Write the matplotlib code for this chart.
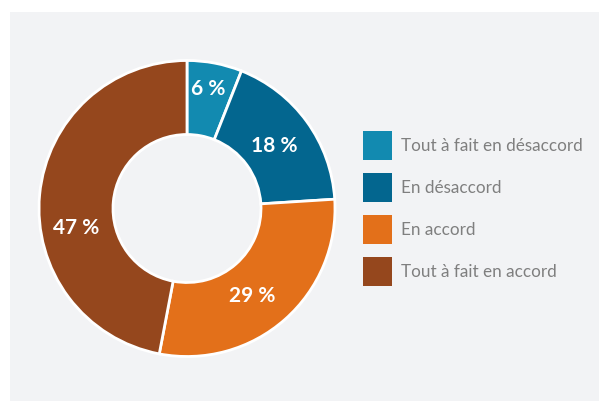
import matplotlib.pyplot as plt
from matplotlib.patches import Rectangle, Patch

categories = ["Tout à fait en désaccord", "En désaccord", "En accord", "Tout à fait en accord"]
values = [6, 18, 29, 47]
colors = ["#128ab0", "#03668f", "#e3701a", "#95471d"]

# where the percentage labels sit (axes data units, donut radius = 1)
label_pos = [(0.14, 0.81), (0.59, 0.42), (0.44, -0.59), (-0.75, -0.13)]

plt.rcParams["font.family"] = ["Lato", "DejaVu Sans"]

W, H = 599, 401
fig = plt.figure(figsize=(W / 100, H / 100), dpi=100)
fig.patch.set_facecolor("white")

# gray panel behind everything
fig.patches.append(
    Rectangle((10 / W, 0), 1 - 10 / W, 1 - 12 / H, transform=fig.transFigure,
              facecolor="#f2f3f5", edgecolor="none", zorder=-1)
)

cx, cy, r = 187, 208.5, 148
ax = fig.add_axes([(cx - r) / W, (H - cy - r) / H, 2 * r / W, 2 * r / H])
ax.set_facecolor("none")

wedges, texts, autotexts = ax.pie(
    values,
    colors=colors,
    startangle=90,
    counterclock=False,
    radius=1,
    autopct=lambda p: f"{p:.0f} %",
    pctdistance=0.75,
    wedgeprops=dict(width=0.5, edgecolor="white", linewidth=2, clip_on=False),
    textprops=dict(color="white", fontsize=15, fontweight="bold"),
)
for t, pos in zip(autotexts, label_pos):
    t.set_position(pos)
ax.set_xlim(-1, 1)
ax.set_ylim(-1, 1)
ax.set_aspect("equal")
ax.axis("off")

fs = 12.3
fpx = fs * 100 / 72  # font size in pixels
handles = [Patch(facecolor=c, edgecolor="none") for c in colors]
fig.legend(
    handles, categories,
    loc="upper left",
    bbox_to_anchor=(363 / W, 1 - 131 / H),
    frameon=False,
    fontsize=fs,
    labelcolor="#7f7f7f",
    handlelength=29 / fpx,
    handleheight=(29 / fpx - 0.245) / 0.65,
    handletextpad=9 / fpx,
    labelspacing=13 / fpx,
    borderpad=0,
    borderaxespad=0,
)

fig.savefig("out.png", dpi=100)
